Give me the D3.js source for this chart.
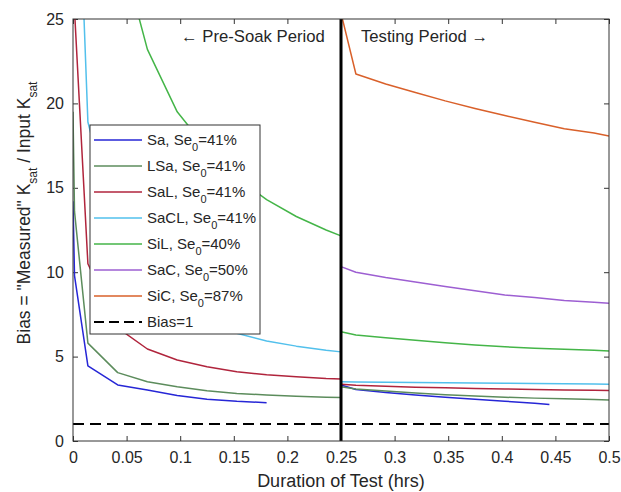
<!DOCTYPE html>
<html>
<head>
<meta charset="utf-8">
<script src="https://cdn.jsdelivr.net/npm/d3@7"></script>
<style>
  body { margin: 0; background: #fff; }
  text { font-family: "Liberation Sans", Arial, sans-serif; fill: #262626; }
</style>
</head>
<body>
<div class="chart"></div>
<script>
//DATA ************************************************************************
// time points (hrs) for the pre-soak part and the testing part
const tPre = [0, 0.0014, 0.0139, 0.0417, 0.0694, 0.0972, 0.125, 0.1528, 0.1806, 0.2083, 0.2361, 0.25];
const tTest = [0.25, 0.2639, 0.2917, 0.3194, 0.3472, 0.375, 0.4028, 0.4306, 0.4444, 0.4583, 0.4861, 0.5];

// bias values, null = no point there
const saPre   = [14.2, 9.8, 4.45, 3.32, 3.02, 2.70, 2.47, 2.35, 2.27, null, null, null];
const lsaPre  = [19.5, 13.6, 5.8, 4.05, 3.51, 3.22, 2.98, 2.82, 2.72, 2.65, 2.59, 2.57];
const salPre  = [27.2, null, 10.5, 6.7, 5.45, 4.8, 4.4, 4.1, 3.92, 3.8, 3.7, 3.67];
const saclPre = [42.4, null, 18.9, 12.0, 9.2, 7.8, 6.9, 6.38, 5.92, 5.62, 5.38, 5.28];
const silPre  = [null, null, null, 29.8, 23.2, 19.5, 17.3, 15.6, 14.3, 13.3, 12.5, 12.15];

const saTest   = [3.32, 3.05, 2.87, 2.72, 2.59, 2.47, 2.36, 2.24, 2.16, null, null, null];
const lsaTest  = [3.22, 3.08, 2.96, 2.85, 2.74, 2.66, 2.59, 2.54, null, 2.5, 2.46, 2.43];
const salTest  = [3.36, 3.3, 3.24, 3.19, 3.15, 3.11, 3.08, 3.05, null, 3.02, 3.0, 2.99];
const saclTest = [3.51, 3.5, 3.48, 3.46, 3.45, 3.43, 3.42, 3.40, null, 3.39, 3.37, 3.36];
const silTest  = [6.47, 6.28, 6.12, 5.97, 5.82, 5.69, 5.58, 5.5, null, 5.43, 5.37, 5.33];
const sacTest  = [10.33, 10.0, 9.68, 9.42, 9.15, 8.9, 8.65, 8.5, null, 8.33, 8.22, 8.16];
const sicTest  = [25.35, 21.74, 21.15, 20.65, 20.15, 19.7, 19.28, 18.88, null, 18.5, 18.25, 18.07];

const soils = ["Sa", "LSa", "SaL", "SaCL", "SiL", "SaC", "SiC"];
const seValues = ["41%", "41%", "41%", "41%", "40%", "50%", "87%"];
const colors = ["#2626d6", "#5c8c5c", "#b0243c", "#52c0ec", "#44b548", "#9d5fd2", "#d9602a"];
const preData = [saPre, lsaPre, salPre, saclPre, silPre, null, null];
const testData = [saTest, lsaTest, salTest, saclTest, silTest, sacTest, sicTest];

const xTicks = [0, 0.05, 0.1, 0.15, 0.2, 0.25, 0.3, 0.35, 0.4, 0.45, 0.5];
const yTicks = [0, 5, 10, 15, 20, 25];
const biasLevel = 1;
const splitTime = 0.25;

//CHART LAYOUT ****************************************************************
const width = 621, height = 492;
const mLeft = 73, mRight = 609, mTop = 19, mBottom = 441;

const svg = d3.select(".chart").append("svg")
  .attr("width", width)
  .attr("height", height);

const xScale = d3.scaleLinear().domain([0, 0.5]).range([mLeft, mRight]);
const yScale = d3.scaleLinear().domain([0, 25]).range([mBottom, mTop]);

svg.append("clipPath").attr("id", "plotclip")
  .append("rect")
  .attr("x", mLeft).attr("y", mTop)
  .attr("width", mRight - mLeft).attr("height", mBottom - mTop);

//AXIS ************************************************************************
const axisColor = "#333";
function styleAxis(g, hideText) {
  g.select(".domain").remove();
  g.selectAll(".tick line").attr("stroke", axisColor);
  g.selectAll(".tick text")
    .style("font-size", "16px")
    .attr("fill", "#3a3a3a")
    .style("display", hideText ? "none" : null);
}

svg.append("g")
  .attr("transform", `translate(0,${mBottom})`)
  .call(d3.axisBottom(xScale).tickValues(xTicks).tickFormat(d3.format("")).tickSizeInner(-5).tickPadding(11))
  .call(g => styleAxis(g, false));
svg.append("g")
  .attr("transform", `translate(0,${mTop})`)
  .call(d3.axisTop(xScale).tickValues(xTicks).tickSizeInner(-5))
  .call(g => styleAxis(g, true));
svg.append("g")
  .attr("transform", `translate(${mLeft},0)`)
  .call(d3.axisLeft(yScale).tickValues(yTicks).tickSizeInner(-5).tickPadding(9))
  .call(g => styleAxis(g, false));
svg.append("g")
  .attr("transform", `translate(${mRight},0)`)
  .call(d3.axisRight(yScale).tickValues(yTicks).tickSizeInner(-5))
  .call(g => styleAxis(g, true));

//CHART PLOTTING **************************************************************
const line = d3.line().x(d => xScale(d[0])).y(d => yScale(d[1]));
const plot = svg.append("g").attr("clip-path", "url(#plotclip)");

function pairs(times, vals) {
  return vals.map((v, i) => [times[i], v]).filter(d => d[1] != null);
}

// bias = 1 reference
plot.append("path")
  .datum([[0, biasLevel], [0.5, biasLevel]])
  .attr("d", line)
  .attr("fill", "none")
  .attr("stroke", "#000")
  .attr("stroke-width", 2)
  .attr("stroke-dasharray", "11,6");

soils.forEach((s, i) => {
  [[tPre, preData[i]], [tTest, testData[i]]].forEach(part => {
    if (!part[1]) return;
    plot.append("path")
      .datum(pairs(part[0], part[1]))
      .attr("d", line)
      .attr("fill", "none")
      .attr("stroke", colors[i])
      .attr("stroke-width", 1.5)
      .attr("stroke-linejoin", "round");
  });
});

// split between pre-soak and testing
svg.append("line")
  .attr("x1", xScale(splitTime)).attr("x2", xScale(splitTime))
  .attr("y1", yScale(0)).attr("y2", yScale(25))
  .attr("stroke", "#000")
  .attr("stroke-width", 3);

// box
svg.append("rect")
  .attr("x", mLeft).attr("y", mTop)
  .attr("width", mRight - mLeft).attr("height", mBottom - mTop)
  .attr("fill", "none")
  .attr("stroke", axisColor)
  .attr("stroke-width", 1);

//TEXTS ***********************************************************************
svg.append("text")
  .attr("x", 181).attr("y", 42)
  .style("font-size", "16.7px")
  .text("\u2190 Pre-Soak Period");
svg.append("text")
  .attr("x", 361).attr("y", 42)
  .style("font-size", "16.7px")
  .text("Testing Period \u2192");

svg.append("text")
  .attr("x", xScale(0.25)).attr("y", 487)
  .attr("text-anchor", "middle")
  .attr("fill", "#3a3a3a")
  .style("font-size", "18px")
  .text("Duration of Test (hrs)");

const yLab = svg.append("text")
  .attr("transform", `translate(30,213) rotate(-90)`)
  .attr("text-anchor", "middle")
  .attr("fill", "#3a3a3a")
  .style("font-size", "17.5px");
yLab.append("tspan").text("Bias = \"Measured\" K");
yLab.append("tspan").attr("baseline-shift", "sub").style("font-size", "12px").text("sat");
yLab.append("tspan").text(" / Input K");
yLab.append("tspan").attr("baseline-shift", "sub").style("font-size", "12px").text("sat");

//LEGEND **********************************************************************
const legX = 90, legY = 125, legW = 170, legH = 209, rowH = 26;
const legend = svg.append("g");
legend.append("rect")
  .attr("x", legX).attr("y", legY)
  .attr("width", legW).attr("height", legH)
  .attr("fill", "#fff")
  .attr("stroke", axisColor);

soils.forEach((s, i) => {
  const yy = legY + 15 + i * rowH;
  legend.append("line")
    .attr("x1", legX + 4).attr("x2", legX + 52)
    .attr("y1", yy).attr("y2", yy)
    .attr("stroke", colors[i]).attr("stroke-width", 1.5);
  const t = legend.append("text")
    .attr("x", legX + 57).attr("y", yy + 5)
    .style("font-size", "15px");
  t.append("tspan").text(s + ", Se");
  t.append("tspan").attr("baseline-shift", "sub").style("font-size", "11px").text("0");
  t.append("tspan").text("=" + seValues[i]);
});
const by = legY + 15 + soils.length * rowH;
legend.append("line")
  .attr("x1", legX + 4).attr("x2", legX + 52)
  .attr("y1", by).attr("y2", by)
  .attr("stroke", "#000").attr("stroke-width", 2)
  .attr("stroke-dasharray", "10,5");
legend.append("text")
  .attr("x", legX + 57).attr("y", by + 5)
  .style("font-size", "15px")
  .text("Bias=1");
</script>
</body>
</html>
